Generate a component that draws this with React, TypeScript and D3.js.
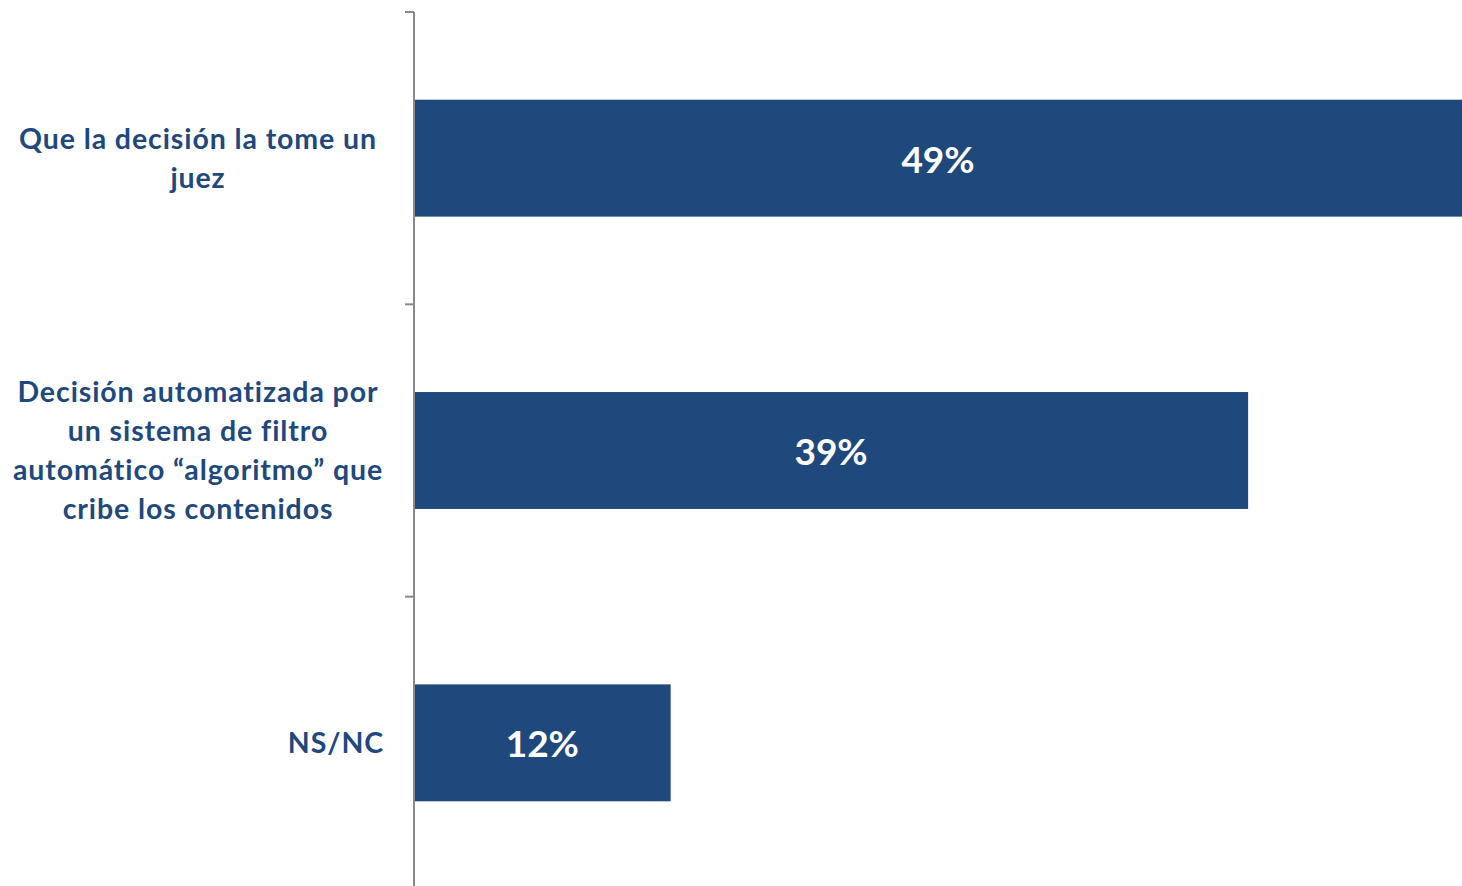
import React from "react";
import * as d3 from "d3";

const categories = ["Que la decisión la tome un juez", "Decisión automatizada por un sistema de filtro automático “algoritmo” que cribe los contenidos", "NS/NC"];
const categoryLines = [
  ["Que la decisión la tome un", "juez"],
  ["Decisión automatizada por", "un sistema de filtro", "automático “algoritmo” que", "cribe los contenidos"],
  ["NS/NC"],
];
const values = [49, 39, 12];
const valueLabels = ["49%", "39%", "12%"];

const W = 1462;
const H = 886;
const FONT = "Lato, 'Open Sans', sans-serif";
const BAR = "#1F497D";
const TEXT = "#1F497D";

export default function App() {
  const x = d3.scaleLinear().domain([0, 49]).range([414, 1462]);
  const y = d3
    .scaleBand<string>()
    .domain(categories)
    .range([12, 889])
    .paddingInner(0.6)
    .paddingOuter(0.3);
  const step = y.step();
  const bandStart = (c: string) => (y(c) as number) - step * 0.3;
  const tickYs = categories.map((c) => bandStart(c));

  return (
    <svg
      width={W}
      height={H}
      style={{ position: "absolute", left: 0, top: 0, background: "#fff" }}
      fontFamily={FONT}
    >
      {categories.map((c, i) => {
        const y0 = y(c) as number;
        const cy = y0 + y.bandwidth() / 2;
        return (
          <g key={c}>
            <rect x={x(0)} y={y0} width={x(values[i]) - x(0)} height={y.bandwidth()} fill={BAR} />
            <text
              x={(x(0) + x(values[i])) / 2}
              y={cy + 14.5}
              textAnchor="middle"
              fill="#fff"
              fontWeight={700}
              fontSize={37}
            >
              {valueLabels[i]}
            </text>
            {categoryLines[i].map((line, j) => {
              const n = categoryLines[i].length;
              const single = n === 1;
              return (
                <text
                  key={j}
                  x={single ? 384 : 198}
                  y={cy + 10 + (j - (n - 1) / 2) * 39}
                  textAnchor={single ? "end" : "middle"}
                  fill={TEXT}
                  fontWeight={700}
                  fontSize={28.5}
                  letterSpacing={0.9}
                >
                  {line}
                </text>
              );
            })}
          </g>
        );
      })}
      <line x1={x(0)} x2={x(0)} y1={12} y2={H} stroke="#898989" strokeWidth={2} />
      {tickYs.map((ty, i) => (
        <line key={i} x1={405} x2={x(0)} y1={ty} y2={ty} stroke="#898989" strokeWidth={2} />
      ))}
    </svg>
  );
}
